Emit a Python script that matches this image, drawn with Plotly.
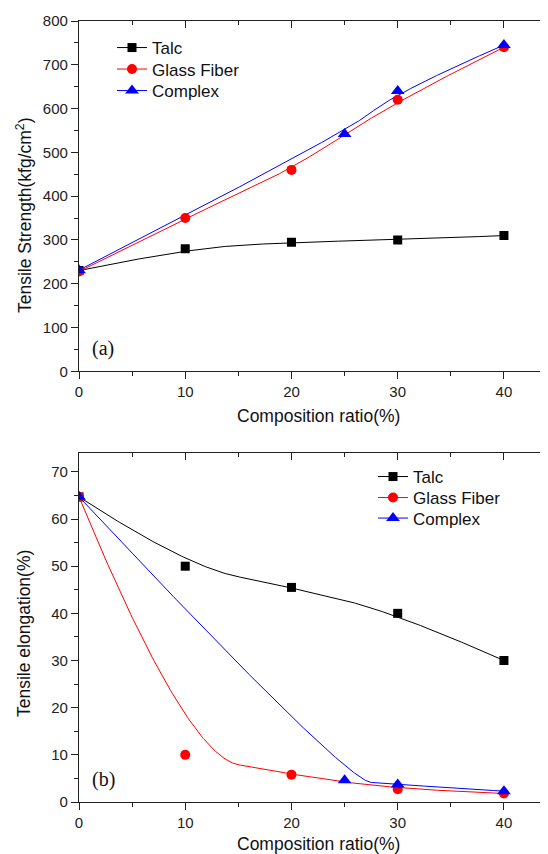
import numpy as np
import plotly.graph_objects as go

# ---------------- data ----------------
ratio_talc = [0, 10, 20, 30, 40]
ratio_gf = [0, 10, 20, 30, 40]
ratio_cx = [0, 25, 30, 40]

strength_talc = [230, 280, 295, 300, 310]
strength_gf = [228, 350, 460, 620, 740]
strength_cx = [231, 542, 640, 745]

elong_talc = [64.7, 50, 45.5, 40, 30]
elong_gf = [64.7, 10, 5.8, 2.7, 1.8]
elong_cx = [64.7, 4.6, 3.7, 2.3]

series_names = ["Talc", "Glass Fiber", "Complex"]
x_ticks = [0, 10, 20, 30, 40]
y_ticks_a = list(range(0, 801, 100))
y_ticks_b = list(range(0, 71, 10))

# ---------------- style ----------------
W, H = 548, 854
ML, MR, MT, MB = 71, 0, 13, 60
PW, PH = W - ML - MR, H - MT - MB
colors = ["#000000", "#ff0000", "#0000ff"]
symbols = ["square", "circle", "triangle-up"]
msizes = [9, 10, 12]
AX = "#222222"
FONT = "Liberation Sans, Arial, sans-serif"


def py2paper(py):
    return (MT + PH - py) / PH


def px2paper(px):
    return (px - ML) / PW


def bspline(xs, ys, n=300, degree=2):
    """Clamped uniform B-spline using the data points as control points."""
    P = np.column_stack([xs, ys]).astype(float)
    m = len(P)
    k = min(degree, m - 1)
    inner = [i / (m - k) for i in range(1, m - k)]
    knots = np.array([0.0] * (k + 1) + inner + [1.0] * (k + 1))
    ts = np.linspace(0, 1, n)
    out = []
    for t in ts:
        N = np.zeros(len(knots) - 1)
        for i in range(len(knots) - 1):
            if (knots[i] <= t < knots[i + 1]) or (t == 1.0 and knots[i] < knots[i + 1] == 1.0):
                N[i] = 1.0
        for d in range(1, k + 1):
            Nn = np.zeros(len(knots) - 1 - d)
            for i in range(len(Nn)):
                a = 0.0
                if knots[i + d] != knots[i]:
                    a = (t - knots[i]) / (knots[i + d] - knots[i]) * N[i]
                b = 0.0
                if knots[i + d + 1] != knots[i + 1]:
                    b = (knots[i + d + 1] - t) / (knots[i + d + 1] - knots[i + 1]) * N[i + 1]
                Nn[i] = a + b
            N = Nn
        out.append(N[:m] @ P)
    out = np.array(out)
    return out[:, 0], out[:, 1]


fig = go.Figure()

# legend row positions (pixels) for each panel
legend_rows = [
    (104, [40.0, 61.5, 83.0]),
    (365, [469.0, 490.0, 510.5]),
]

panels = [
    ("x", "y", [(ratio_talc, strength_talc), (ratio_gf, strength_gf), (ratio_cx, strength_cx)]),
    ("x2", "y2", [(ratio_talc, elong_talc), (ratio_gf, elong_gf), (ratio_cx, elong_cx)]),
]

legend_font = dict(family=FONT, size=17, color="#111")
legend_layouts = {}
lg_idx = 0
for p, (xa, ya, sers) in enumerate(panels):
    for i, (xs, ys) in enumerate(sers):
        cx, cy = bspline(xs, ys)
        fig.add_trace(go.Scatter(x=cx, y=cy, mode="lines", xaxis=xa, yaxis=ya,
                                 line=dict(color=colors[i], width=1), showlegend=False,
                                 hoverinfo="skip"))
    for i, (xs, ys) in enumerate(sers):
        fig.add_trace(go.Scatter(x=xs, y=ys, mode="markers", xaxis=xa, yaxis=ya,
                                 marker=dict(color=colors[i], symbol=symbols[i], size=msizes[i],
                                             line=dict(width=0)),
                                 showlegend=False, name=series_names[i]))
    lx, rows = legend_rows[p]
    for i in range(3):
        lg_idx += 1
        lname = "legend" if lg_idx == 1 else f"legend{lg_idx}"
        fig.add_trace(go.Scatter(x=[None], y=[None], mode="lines+markers", xaxis=xa, yaxis=ya,
                                 name=series_names[i], legend=lname,
                                 line=dict(color=colors[i], width=1),
                                 marker=dict(color=colors[i], symbol=symbols[i], size=msizes[i],
                                             line=dict(width=0))))
        legend_layouts[lname] = dict(x=px2paper(lx), y=py2paper(rows[i]), xanchor="left",
                                     yanchor="middle", bgcolor="rgba(0,0,0,0)",
                                     font=legend_font, itemwidth=30, tracegroupgap=0)

# overlay axes for inside mirrored ticks
for xa, ya in [("x3", "y3"), ("x4", "y4")]:
    fig.add_trace(go.Scatter(x=[None], y=[None], xaxis=xa, yaxis=ya, showlegend=False,
                             hoverinfo="skip", mode="markers"))

xr = [0, 44.9]
dom_a = [py2paper(363.3), 1.0]
dom_b = [0.0, py2paper(445)]

tickfont = dict(family=FONT, size=15, color=AX)
base_x = dict(range=xr, tickvals=x_ticks, showgrid=False, zeroline=False,
              showline=True, linecolor=AX, linewidth=1.3,
              ticks="outside", ticklen=7, tickwidth=1.2, tickcolor=AX,
              minor=dict(dtick=5, tick0=0, ticks="outside", ticklen=4, tickwidth=1.2, tickcolor=AX),
              tickfont=tickfont)
base_y = dict(showgrid=False, zeroline=False, showline=True, linecolor=AX, linewidth=1.3,
              ticks="outside", ticklen=7, tickwidth=1.2, tickcolor=AX, tickfont=tickfont)

top_x = dict(range=xr, tickvals=x_ticks, showgrid=False, zeroline=False, showline=True,
             linecolor=AX, linewidth=1.3, side="top", ticks="inside", ticklen=7, tickwidth=1.2,
             tickcolor=AX, showticklabels=False,
             minor=dict(dtick=5, tick0=0, ticks="inside", ticklen=4, tickwidth=1.2, tickcolor=AX))

fig.update_layout(
    width=W, height=H,
    margin=dict(l=ML, r=MR, t=MT, b=MB),
    paper_bgcolor="white", plot_bgcolor="white",
    xaxis=dict(**base_x, anchor="y"),
    yaxis=dict(**base_y, anchor="x", domain=dom_a, range=[0, 800], tickvals=y_ticks_a,
               minor=dict(dtick=50, tick0=0, ticks="outside", ticklen=4, tickwidth=1.2, tickcolor=AX)),
    xaxis2=dict(**base_x, anchor="y2"),
    yaxis2=dict(**base_y, anchor="x2", domain=dom_b, range=[0, 74], tickvals=y_ticks_b,
                minor=dict(dtick=5, tick0=0, ticks="outside", ticklen=4, tickwidth=1.2, tickcolor=AX)),
    xaxis3=dict(**top_x, overlaying="x", anchor="y"),
    yaxis3=dict(overlaying="y", anchor="x", side="right", range=[0, 800], tickvals=y_ticks_a,
                showgrid=False, zeroline=False, showline=False, ticks="inside", ticklen=7,
                tickwidth=1.2, tickcolor=AX, showticklabels=False,
                minor=dict(dtick=50, tick0=0, ticks="inside", ticklen=4, tickwidth=1.2, tickcolor=AX)),
    xaxis4=dict(**top_x, overlaying="x2", anchor="y2"),
    yaxis4=dict(overlaying="y2", anchor="x2", side="right", range=[0, 74], tickvals=y_ticks_b,
                showgrid=False, zeroline=False, showline=False, ticks="inside", ticklen=7,
                tickwidth=1.2, tickcolor=AX, showticklabels=False,
                minor=dict(dtick=5, tick0=0, ticks="inside", ticklen=4, tickwidth=1.2, tickcolor=AX)),
    showlegend=True,
    **legend_layouts,
)

title_font = dict(family=FONT, size=17.5, color="#111")
ann = [
    dict(text="Composition ratio(%)", x=px2paper(310), y=py2paper(408)),
    dict(text="Composition ratio(%)", x=px2paper(310), y=py2paper(836)),
    dict(text="Tensile Strength(kfg/cm<sup>2</sup>)", x=px2paper(16), y=py2paper(207), textangle=-90),
    dict(text="Tensile elongation(%)", x=px2paper(16), y=py2paper(626), textangle=-90),
]
for a in ann:
    fig.add_annotation(xref="paper", yref="paper", showarrow=False, xanchor="center",
                       yanchor="middle", font=title_font, **a)

label_font = dict(family="Liberation Serif, Times New Roman, serif", size=20, color="#111")
fig.add_annotation(text="(a)", xref="paper", yref="paper", x=px2paper(95), y=py2paper(340),
                   showarrow=False, xanchor="center", yanchor="middle", font=label_font)
fig.add_annotation(text="(b)", xref="paper", yref="paper", x=px2paper(95), y=py2paper(771),
                   showarrow=False, xanchor="center", yanchor="middle", font=label_font)

fig.write_html("out.html")
